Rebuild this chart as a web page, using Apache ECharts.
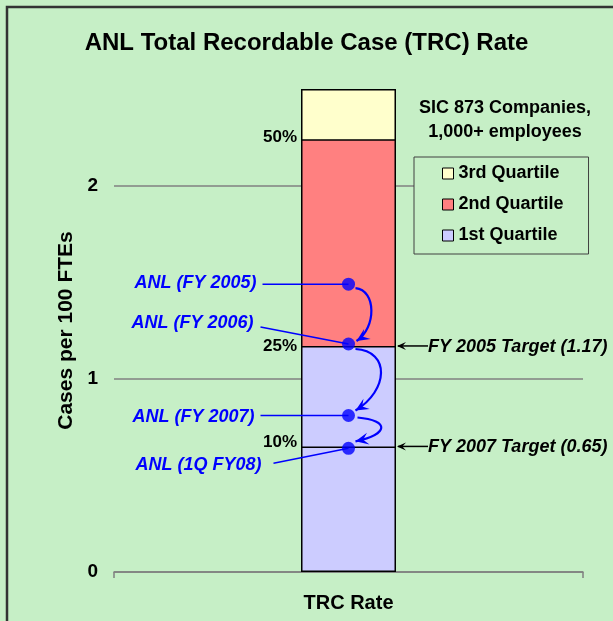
<!DOCTYPE html>
<html><head><meta charset="utf-8">
<script src="https://cdn.jsdelivr.net/npm/echarts@6/dist/echarts.min.js"></script>
<style>html,body{margin:0;padding:0;background:#c6efc6}#c{width:613px;height:621px}</style>
</head><body><div id="c"></div>
<script>
// ---- data ----
const categories = ['TRC Rate'];
const quartileNames = ['3rd Quartile', '2nd Quartile', '1st Quartile'];
const quartileTops = [2.5, 2.24, 1.17];
const percentileLabels = ['50%', '25%', '10%'];
const percentileValues = [2.24, 1.17, 0.65];
const anlNames = ['ANL (FY 2005)', 'ANL (FY 2006)', 'ANL (FY 2007)', 'ANL (1Q FY08)'];
const anlValues = [1.49, 1.18, 0.81, 0.64];
const targetNames = ['FY 2005 Target (1.17)', 'FY 2007 Target (0.65)'];
const targetValues = [1.17, 0.65];
const yMin = 0, yMax = 2.5, yInterval = 1;

// ---- style ----
const FONT = 'Arial, "Liberation Sans", sans-serif';
const BG = '#c6efc6';
const quartileColors = ['#ffffcc', '#ff8080', '#ccccff'];
const BAR_W = 95;
const BLUE = '#0000ff';

const chart = echarts.init(document.getElementById('c'));

const barSeries = quartileNames.map((n, i) => ({
  name: n, type: 'bar', barWidth: BAR_W, barGap: '-100%',
  data: [quartileTops[i]],
  itemStyle: { color: quartileColors[i], borderColor: '#000', borderWidth: 1.5 },
  emphasis: { disabled: true }, z: 2
}));
barSeries.push({
  name: '10th Percentile', type: 'bar', barWidth: BAR_W, barGap: '-100%',
  data: [percentileValues[2]],
  itemStyle: { color: quartileColors[2], borderColor: '#000', borderWidth: 1.5 },
  emphasis: { disabled: true }, z: 2
});

const option = {
  backgroundColor: BG,
  animation: false,
  textStyle: { fontFamily: FONT },
  title: [
    { text: 'ANL Total Recordable Case (TRC) Rate', left: 'center', top: 31, padding: 0,
      textStyle: { fontFamily: FONT, fontSize: 24, fontWeight: 'bold', color: '#000' } },
    { text: 'SIC 873 Companies,\n1,000+ employees', left: 505, top: 96, textAlign: 'center', padding: 0,
      textStyle: { fontFamily: FONT, fontSize: 18, fontWeight: 'bold', color: '#000', lineHeight: 24, align: 'center' } }
  ],
  legend: {
    data: quartileNames, orient: 'vertical', left: 414, top: 157,
    padding: [7, 25, 9, 28], itemGap: 12, itemWidth: 11, itemHeight: 11,
    backgroundColor: BG, borderColor: '#404040', borderWidth: 1,
    selectedMode: false, icon: 'rect',
    itemStyle: { borderColor: '#000', borderWidth: 1 },
    textStyle: { fontFamily: FONT, fontSize: 18, fontWeight: 'bold', color: '#000', lineHeight: 19 }
  },
  grid: { left: 114, right: 30, top: 89, bottom: 49, containLabel: false },
  xAxis: {
    type: 'category', data: categories,
    axisLine: { lineStyle: { color: '#808080', width: 1.5 } },
    axisTick: { show: true, length: 6, lineStyle: { color: '#808080', width: 1.5 } },
    axisLabel: { margin: 21, fontFamily: FONT, fontSize: 20, fontWeight: 'bold', color: '#000' }
  },
  yAxis: {
    type: 'value', min: yMin, max: yMax, interval: yInterval,
    name: 'Cases per 100 FTEs', nameLocation: 'middle', nameGap: 37,
    nameTextStyle: { fontFamily: FONT, fontSize: 21, fontWeight: 'bold', color: '#000' },
    axisLine: { show: false }, axisTick: { show: false },
    axisLabel: { margin: 16, showMaxLabel: false, fontFamily: FONT, fontSize: 19, fontWeight: 'bold', color: '#000',
      formatter: v => (Number.isInteger(v) ? String(v) : '') },
    splitLine: { show: true, showMaxLine: false, lineStyle: { color: '#808080', width: 1.5 } }
  },
  series: barSeries.concat([{
    name: 'ANL', type: 'scatter', symbolSize: 13,
    data: anlValues.map(v => [0, v]),
    itemStyle: { color: BLUE }, emphasis: { disabled: true }, z: 5
  }])
};
chart.setOption(option);

// ---- annotations anchored on data coordinates ----
const scatterIdx = barSeries.length;
const P = v => chart.convertToPixel({ seriesIndex: scatterIdx }, [0, v]);
const cx = P(0)[0];
const barL = cx - BAR_W / 2, barR = cx + BAR_W / 2;
const g = [];

// frame
g.push({ type: 'polyline', shape: { points: [[7, 621], [7, 7], [613, 7]] },
  style: { stroke: '#333', lineWidth: 2.5, fill: null }, z: 20 });

// percentile labels
const pctDy = [-2, 0, -4];
percentileLabels.forEach((t, i) => {
  const y = P(percentileValues[i])[1];
  g.push({ type: 'text', x: barL - 4, y: y + pctDy[i], z: 10,
    style: { text: t, align: 'right', verticalAlign: 'middle', font: 'bold 17px ' + FONT, fill: '#000' } });
});

// ANL labels + connectors
const lab = [
  { tx: -92, ty: -1, lx: -86, ly: 0 },
  { tx: -95, ty: -21, lx: -88, ly: -17 },
  { tx: -94, ty: 2, lx: -88, ly: 0 },
  { tx: -87, ty: 17, lx: -75, ly: 15 }
];
const pts = anlValues.map(v => P(v));
anlNames.forEach((t, i) => {
  const p = pts[i], o = lab[i];
  g.push({ type: 'text', x: p[0] + o.tx, y: p[1] + o.ty, z: 10,
    style: { text: t, align: 'right', verticalAlign: 'middle', font: 'italic bold 18px ' + FONT, fill: BLUE } });
  g.push({ type: 'line', shape: { x1: p[0] + o.lx, y1: p[1] + o.ly, x2: p[0], y2: p[1] }, z: 4,
    style: { stroke: BLUE, lineWidth: 1.5 } });
});

function arrowHead(tip, from, len, half, color) {
  const dx = tip[0] - from[0], dy = tip[1] - from[1];
  const L = Math.hypot(dx, dy), ux = dx / L, uy = dy / L, nx = -uy, ny = ux;
  const bx = tip[0] - ux * len, by = tip[1] - uy * len;
  const mx = tip[0] - ux * len * 0.6, my = tip[1] - uy * len * 0.6;
  return { type: 'polygon', z: 11,
    shape: { points: [tip, [bx + nx * half, by + ny * half], [mx, my], [bx - nx * half, by - ny * half]] },
    style: { fill: color } };
}

// curved arrows between consecutive ANL points
const curves = [
  { s: [7, 4], e: [8, -3], c1: [28, 6], c2: [28, -16] },
  { s: [7, 5], e: [7, -5], c1: [42, 7], c2: [40, -25] },
  { s: [9, 2], e: [7, -7], c1: [42, 5], c2: [40, -14] }
];
curves.forEach((c, i) => {
  const a = pts[i], b = pts[i + 1];
  const s = [a[0] + c.s[0], a[1] + c.s[1]];
  const e = [b[0] + c.e[0], b[1] + c.e[1]];
  const c1 = [a[0] + c.c1[0], a[1] + c.c1[1]];
  const c2 = [b[0] + c.c2[0], b[1] + c.c2[1]];
  g.push({ type: 'bezierCurve', z: 11,
    shape: { x1: s[0], y1: s[1], cpx1: c1[0], cpy1: c1[1], cpx2: c2[0], cpy2: c2[1], x2: e[0], y2: e[1] },
    style: { stroke: BLUE, lineWidth: 2.2, fill: null } });
  g.push(arrowHead(e, c2, 13, 6, BLUE));
});

// target arrows
targetNames.forEach((t, i) => {
  const y = P(targetValues[i])[1];
  g.push({ type: 'line', shape: { x1: barR + 2, y1: y, x2: barR + 32, y2: y }, z: 10,
    style: { stroke: '#000', lineWidth: 1.5 } });
  g.push(arrowHead([barR + 1, y], [barR + 20, y], 9, 4, '#000'));
  g.push({ type: 'text', x: barR + 32, y: y + 1, z: 10,
    style: { text: t, align: 'left', verticalAlign: 'middle', font: 'italic bold 18px ' + FONT, fill: '#000' } });
});

chart.setOption({ graphic: g });
</script>
</body></html>
